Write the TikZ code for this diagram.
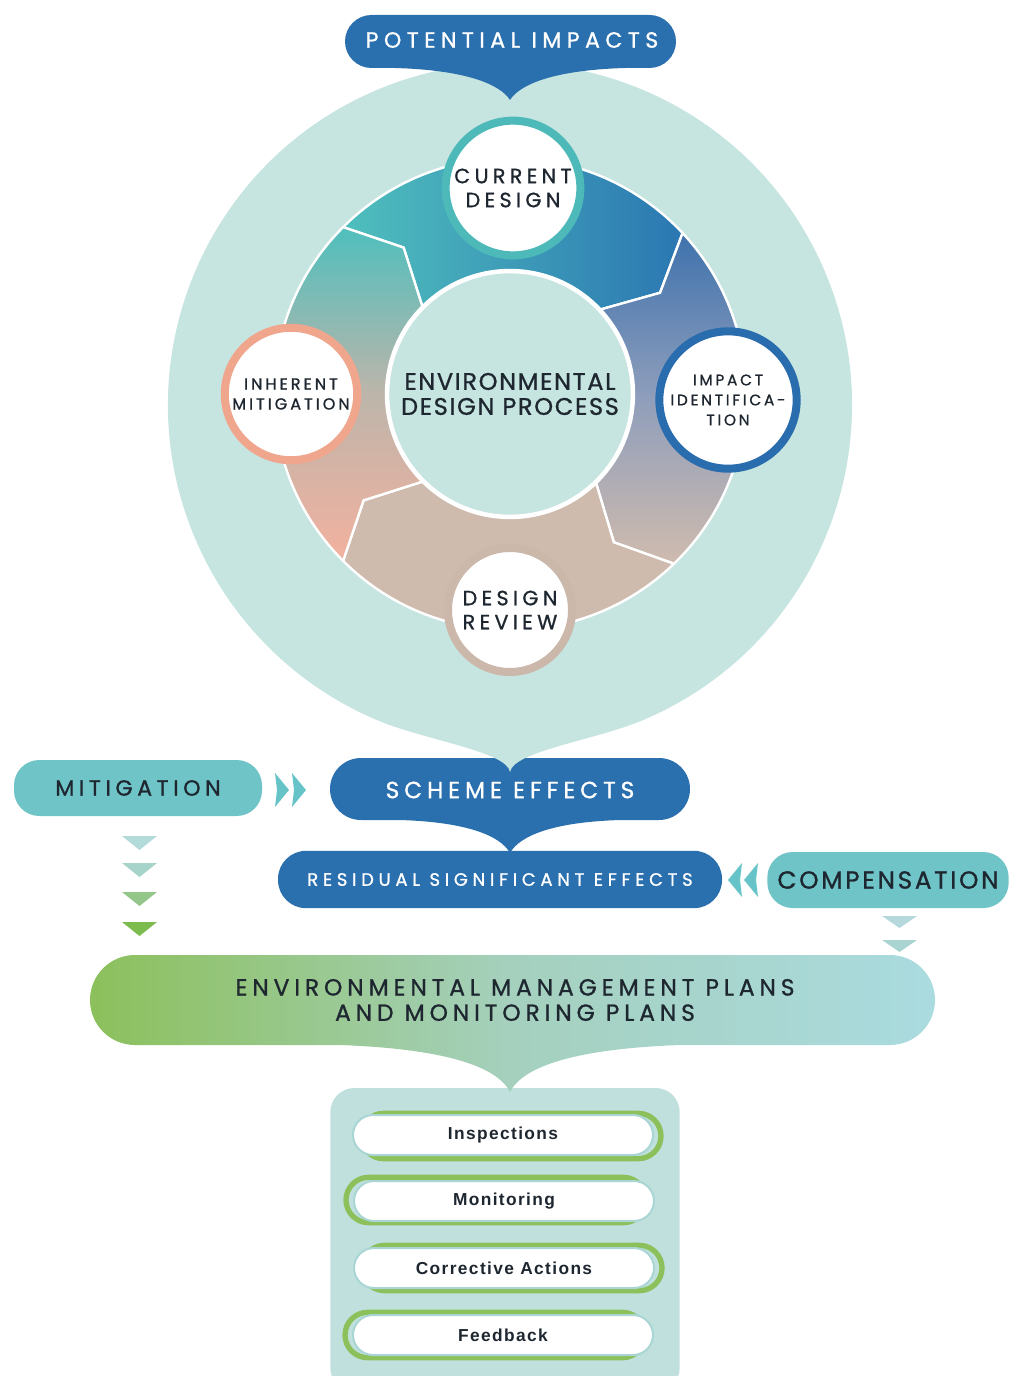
\documentclass[tikz,border=0pt]{standalone}
\usepackage{fontspec}
\usetikzlibrary{shadows}

\setmainfont{Poppins}
\newfontfamily\capface[FakeBold=1]{Poppins}
\newfontfamily\pillface[LetterSpace=8]{Liberation Sans}
% size, baseline skip, tracking
\newcommand\capsat[3]{\capface\addfontfeature{LetterSpace=#3}\fontsize{#1}{#2}\selectfont}

\definecolor{deepblue}{HTML}{2A6FAE}
\definecolor{paleteal}{HTML}{C6E4E0}
\definecolor{boxteal}{HTML}{6FC4C7}
\definecolor{arrowteal}{HTML}{66C4C8}
\definecolor{leafgreen}{HTML}{8CC05B}
\definecolor{sagemid}{HTML}{A5D0BE}
\definecolor{mistteal}{HTML}{AADBDF}
\definecolor{panelteal}{HTML}{C0E0DE}
\definecolor{pillshade}{HTML}{A9D6D5}
\definecolor{inkdark}{HTML}{1E2730}
\definecolor{ringteal}{HTML}{4FBFBD}
\definecolor{ringblue}{HTML}{2B77B2}
\definecolor{ringslate}{HTML}{3E72AD}
\definecolor{ringmist}{HTML}{8F9EBB}
\definecolor{ringbeige}{HTML}{CFBBAE}
\definecolor{ringdusk}{HTML}{BDB5AA}
\definecolor{ringsalmon}{HTML}{F3B19F}
\definecolor{designteal}{HTML}{4DB9B9}
\definecolor{mitsalmon}{HTML}{EFA68D}
\definecolor{idblue}{HTML}{2A6DAF}
\definecolor{reviewbeige}{HTML}{CBB8AB}
\definecolor{dropA}{HTML}{B3DBD9}
\definecolor{dropB}{HTML}{A6D3CA}
\definecolor{dropC}{HTML}{93C78A}
\definecolor{dropD}{HTML}{7CBC4F}
\definecolor{dropE}{HTML}{B5D8DC}
\definecolor{dropF}{HTML}{A9D4D2}

\tikzstyle{ribbon} = [fill=deepblue]
\tikzstyle{seg} = [draw=white, line width=1.8pt]
\tikzstyle{segtop} = [seg, left color=ringteal, right color=ringblue]
\tikzstyle{segright} = [seg, top color=ringslate, bottom color=ringbeige, middle color=ringmist]
\tikzstyle{segbottom} = [seg, fill=ringbeige]
\tikzstyle{segleft} = [seg, top color=ringteal, bottom color=ringsalmon, middle color=ringdusk]
\tikzstyle{stage} = [circle, fill=white, line width=6pt, align=center, text=inkdark,
    drop shadow={shadow xshift=1.2pt, shadow yshift=-1.8pt, opacity=0.22}]
\tikzstyle{tealbox} = [fill=boxteal, rounded corners=19pt, minimum height=42pt, text=inkdark]
\tikzstyle{bluebox} = [fill=deepblue, rounded corners=21pt, minimum height=43pt, text=white]
\tikzstyle{chevron} = [fill=arrowteal]
\tikzstyle{rim} = [draw=leafgreen, line width=4pt, rounded corners=17pt,
    minimum width=225pt, minimum height=34pt]
\tikzstyle{pill} = [fill=white, draw=pillshade, line width=1.5pt, rounded corners=15pt,
    minimum width=225pt, minimum height=30pt, text=inkdark,
    font=\pillface\bfseries\fontsize{13}{15}\selectfont]

\begin{document}
\begin{tikzpicture}[x=0.75pt, y=0.75pt]
\useasboundingbox (0,0) rectangle (1009,-1376);

% scheme effects banner sits under the tip of the disc
\path[ribbon] (361,-758) -- (659,-758) arc[start angle=90, end angle=-90, radius=31]
    -- (620,-820) .. controls (555,-822) and (520,-835) .. (510,-853)
    .. controls (500,-835) and (465,-822) .. (400,-820)
    -- (361,-820) arc[start angle=270, end angle=90, radius=31] -- cycle;
\node[text=white, font=\capsat{17.5}{19}{21}] (scheme) at (510,-790) {SCHEME EFFECTS};

% big disc with its tip
\fill[paleteal] (510,-772) .. controls (513,-752) and (590,-741) .. (638.1,-722.1)
    arc[start angle=-68, end angle=248, radius=342]
    .. controls (430,-741) and (507,-752) .. (510,-772) -- cycle;

\path[ribbon] (371.5,-15) -- (649.5,-15) arc[start angle=90, end angle=-90, radius=26.5]
    -- (625,-68) .. controls (555,-70) and (520,-84) .. (510,-100)
    .. controls (500,-84) and (465,-70) .. (395,-68)
    -- (371.5,-68) arc[start angle=270, end angle=90, radius=26.5] -- cycle;
\node[text=white, font=\capsat{16.5}{18}{25}] (potential) at (512,-40) {POTENTIAL IMPACTS};

% process ring
\begin{scope}[shift={(510,-394)}]
  \foreach \a/\b/\s in {135/43/segtop, 43/-46/segright, -46/-135/segbottom, -135/-225/segleft}
    \path[\s] (\a:236) arc[start angle=\a, end angle=\b, radius=236] -- ({\b-9}:181) -- (\b:124)
        arc[start angle=\b, end angle=\a, radius=124] -- ({\a-9}:181) -- cycle;
  \node[circle, fill=paleteal, draw=white, line width=2pt, minimum size=183pt, align=center,
      text=inkdark, font=\capsat{18}{18.75}{7}] (edp) at (0,0)
      {ENVIRONMENTAL\\DESIGN PROCESS};
\end{scope}

\node[stage, draw=designteal, minimum size=93pt, font=\capsat{15.5}{18}{21}]
    (current) at (513,-188) {CURRENT\\DESIGN};
\node[stage, draw=mitsalmon, minimum size=98pt, font=\capsat{12}{15}{19}]
    (inherent) at (291,-394) {INHERENT\\MITIGATION};
\node[stage, draw=idblue, minimum size=99pt, font=\capsat{11.5}{15}{18}]
    (impact) at (728,-400) {IMPACT\\IDENTIFICA-\\TION};
\node[stage, draw=reviewbeige, minimum size=93pt, font=\capsat{15.5}{18}{21}]
    (review) at (510,-610) {DESIGN\\REVIEW};

% side boxes and arrows
\node[tealbox, minimum width=186pt, font=\capsat{16.5}{18}{21}] (mitigation) at (138,-788) {MITIGATION};
\foreach \cx in {275,292}
  \fill[chevron] (\cx,-773) -- ({\cx+14},-790) -- (\cx,-807) -- ({\cx+2},-790) -- cycle;

\node[bluebox, minimum width=333pt, font=\capsat{13.5}{15}{26}] (residual) at (500,-879.5) {RESIDUAL SIGNIFICANT EFFECTS};
\node[tealbox, minimum width=181pt, font=\capsat{18.5}{20}{11}] (compensation) at (888,-880) {COMPENSATION};
\foreach \cx in {742,758}
  \fill[chevron] (\cx,-863) -- ({\cx-14},-880) -- (\cx,-897) -- ({\cx-2},-880) -- cycle;

\foreach \ty/\tc in {836/dropA, 863/dropB, 892/dropC, 922/dropD}
  \fill[\tc] (122,-\ty) -- (157,-\ty) -- (139.5,{-\ty-14}) -- cycle;
\foreach \ty/\tc in {916/dropE, 940/dropF}
  \fill[\tc] (882,-\ty) -- (917,-\ty) -- (899.5,{-\ty-12}) -- cycle;

% plans
\node[fill=panelteal, rounded corners=18pt, minimum width=262pt, minimum height=228pt] (panel) at (505,-1240) {};
\path[left color=leafgreen, right color=mistteal, middle color=sagemid]
    (135,-955) -- (890,-955) arc[start angle=90, end angle=-90, radius=45]
    -- (680,-1045) .. controls (570,-1049) and (522,-1068) .. (510,-1092)
    .. controls (498,-1068) and (450,-1049) .. (340,-1045)
    -- (135,-1045) arc[start angle=270, end angle=90, radius=45] -- cycle;
\node[align=center, text=inkdark, font=\capsat{17.5}{19}{21}] (plans) at (515,-1000)
    {ENVIRONMENTAL MANAGEMENT PLANS\\AND MONITORING PLANS};

\node[rim] (rimA) at (511,-1136) {};
\node[pill] (inspections) at (503,-1135) {Inspections};
\node[rim] (rimB) at (496,-1200) {};
\node[pill] (monitoring) at (504,-1201) {Monitoring};
\node[rim] (rimC) at (512,-1268) {};
\node[pill] (corrective) at (504,-1268) {Corrective Actions};
\node[rim] (rimD) at (495,-1335) {};
\node[pill] (feedback) at (503,-1335) {Feedback};

\end{tikzpicture}
\end{document}
